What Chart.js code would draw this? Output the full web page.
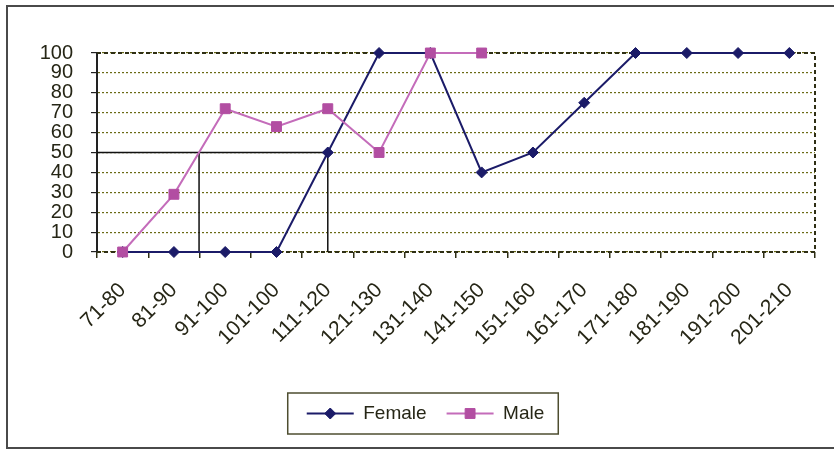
<!DOCTYPE html>
<html lang="en">
<head>
<meta charset="utf-8"/>
<title>Female / Male by range</title>
<script src="https://cdn.jsdelivr.net/npm/chart.js"></script>
<style>
    html, body { margin: 0; padding: 0; background: #fff; }
    .wrap { width: 834px; height: 450px; }
  </style>
</head>
<body>
<div class="wrap"><canvas id="rangeChart" width="834" height="450"></canvas></div>
<script>
    const categories = ['71-80', '81-90', '91-100', '101-100', '111-120', '121-130', '131-140',
      '141-150', '151-160', '161-170', '171-180', '181-190', '191-200', '201-210'];
    const femaleValues = [0, 0, 0, 0, 50, 100, 100, 40, 50, 75, 100, 100, 100, 100];
    const maleValues = [0, 29, 72, 63, 72, 50, 100, 100, null, null, null, null, null, null];
    const yTicks = [0, 10, 20, 30, 40, 50, 60, 70, 80, 90, 100];

    // 50% level and where each series crosses it (category index)
    const medianLevel = 50;
    const medianCrossings = [1.49, 4];

    const femaleColor = '#1b1b68';
    const maleColor = '#c46cba';
    const maleMarker = '#b24ea2';
    const textColor = '#262616';
    const fontFamily = 'Liberation Sans, Arial, sans-serif';

    // outer frame, plot frame, 50% guide lines and legend extras
    const framePlugin = {
      id: 'frame',
      beforeDraw(chart) {
        const ctx = chart.ctx;
        ctx.save();
        ctx.fillStyle = '#fff';
        ctx.fillRect(0, 0, chart.width, chart.height);
        ctx.strokeStyle = '#4a4a4a';
        ctx.lineWidth = 2;
        ctx.beginPath();
        ctx.moveTo(834, 6);
        ctx.lineTo(7, 6);
        ctx.lineTo(7, 448);
        ctx.lineTo(834, 448);
        ctx.stroke();
        ctx.restore();
      },
      beforeDatasetsDraw(chart) {
        const { ctx, chartArea: a, scales } = chart;
        ctx.save();
        ctx.strokeStyle = '#2e2e14';
        ctx.lineWidth = 2;
        ctx.setLineDash([4, 3]);
        ctx.beginPath();
        ctx.moveTo(a.left, a.top);
        ctx.lineTo(a.right, a.top);
        ctx.lineTo(a.right, a.bottom);
        ctx.lineTo(a.left, a.bottom);
        ctx.stroke();
        ctx.setLineDash([]);

        const y50 = scales.y.getPixelForValue(medianLevel);
        const y0 = scales.y.getPixelForValue(0);
        const xs = medianCrossings.map(v => scales.x.getPixelForValue(v));
        ctx.strokeStyle = '#111';
        ctx.lineWidth = 1.5;
        ctx.beginPath();
        ctx.moveTo(a.left, y50);
        ctx.lineTo(Math.max(...xs), y50);
        xs.forEach(x => {
          ctx.moveTo(x, y50);
          ctx.lineTo(x, y0);
        });
        ctx.stroke();
        ctx.restore();
      },
      afterDraw(chart) {
        const legend = chart.legend;
        if (!legend || !legend.legendHitBoxes.length) return;
        const ctx = chart.ctx;
        const boxes = legend.legendHitBoxes;
        const boxW = legend.options.labels.boxWidth;
        ctx.save();
        legend.legendItems.forEach((item, i) => {
          const hb = boxes[i];
          const ds = chart.data.datasets[item.datasetIndex];
          ctx.fillStyle = ds.backgroundColor;
          ctx.strokeStyle = ds.backgroundColor;
          ctx.lineWidth = 1;
          Chart.helpers.drawPoint(ctx, {
            pointStyle: ds.pointStyle,
            radius: ds.pointRadius,
            borderWidth: 1,
            rotation: 0
          }, hb.left + boxW / 2, hb.top + hb.height / 2);
        });
        const left = Math.min(...boxes.map(b => b.left)) - 19;
        const right = Math.max(...boxes.map(b => b.left + b.width)) + 14;
        const top = boxes[0].top - 11;
        const bottom = boxes[0].top + boxes[0].height + 11;
        ctx.strokeStyle = '#4e4e30';
        ctx.lineWidth = 1.5;
        ctx.strokeRect(left, top, right - left, bottom - top);
        ctx.restore();
      }
    };

    new Chart(document.getElementById('rangeChart'), {
      type: 'line',
      data: {
        labels: categories,
        datasets: [
          {
            label: 'Female',
            data: femaleValues,
            borderColor: femaleColor,
            backgroundColor: femaleColor,
            borderWidth: 2,
            pointStyle: 'rectRot',
            pointRadius: 5.5,
            pointBorderWidth: 1,
            tension: 0,
            clip: false,
            order: 1
          },
          {
            label: 'Male',
            data: maleValues,
            borderColor: maleColor,
            backgroundColor: maleMarker,
            borderWidth: 2,
            pointStyle: 'rect',
            pointRadius: 7,
            pointBorderWidth: 1,
            pointBorderColor: maleMarker,
            tension: 0,
            clip: false,
            order: 0
          }
        ]
      },
      options: {
        responsive: false,
        animation: false,
        layout: { padding: { left: 36, right: 19, top: 53, bottom: 17 } },
        plugins: {
          tooltip: { enabled: false },
          legend: {
            position: 'bottom',
            labels: {
              color: textColor,
              font: { family: fontFamily, size: 19 },
              boxWidth: 47,
              boxHeight: 2,
              padding: 20,
              sort: (a, b) => a.datasetIndex - b.datasetIndex,
              generateLabels(chart) {
                return Chart.defaults.plugins.legend.labels.generateLabels(chart).map(item => {
                  item.lineWidth = 0;
                  item.fillStyle = chart.data.datasets[item.datasetIndex].borderColor;
                  return item;
                });
              }
            }
          }
        },
        scales: {
          x: {
            offset: true,
            grid: {
              offset: true,
              drawOnChartArea: false,
              drawTicks: true,
              tickLength: 6,
              tickColor: '#2e2e14',
              lineWidth: 1.5
            },
            border: { display: false },
            ticks: {
              color: textColor,
              font: { family: fontFamily, size: 21 },
              minRotation: 45,
              maxRotation: 45,
              autoSkip: false,
              padding: 20
            },
            afterFit(scale) { scale.height = 132; }
          },
          y: {
            min: 0,
            max: 100,
            afterBuildTicks(scale) { scale.ticks = yTicks.map(v => ({ value: v })); },
            grid: {
              color: '#6a6a14',
              tickColor: '#222',
              tickLength: 6,
              lineWidth: 1.2,
              tickBorderDash: []
            },
            border: { display: true, color: '#222', width: 2, dash: [2, 2] },
            ticks: {
              color: textColor,
              font: { family: fontFamily, size: 20 },
              autoSkip: false,
              padding: 18
            },
            afterFit(scale) { scale.width = 61; }
          }
        }
      },
      plugins: [framePlugin]
    });
  </script>
</body>
</html>
